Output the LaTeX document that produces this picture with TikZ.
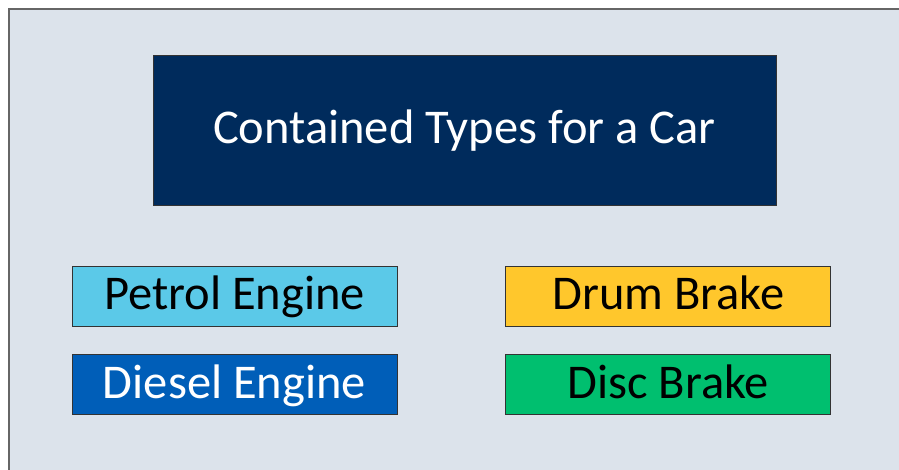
\documentclass[tikz,border=0pt]{standalone}
\usepackage{fontspec}
\setmainfont{Carlito}
\usepackage{xcolor}
\usetikzlibrary{positioning}

\definecolor{navyblue}{HTML}{002B5C}
\definecolor{paleblue}{HTML}{5BC9E8}
\definecolor{royalblue}{HTML}{005EB8}
\definecolor{amber}{HTML}{FFC72C}
\definecolor{emerald}{HTML}{00BF6F}
\definecolor{panel}{HTML}{DCE3EB}

\begin{document}
\begin{tikzpicture}[
  x=1pt, y=-1pt,
  every node/.style={font=\fontsize{48.5}{56}\selectfont,
                     text height=31pt, text depth=4pt},
  typebox/.style={draw=black!80, line width=0.8pt, rectangle,
                  minimum width=325pt, minimum height=60pt, inner sep=0pt}
]
\useasboundingbox (0,0) rectangle (899,470);
\draw[draw=black!60, line width=1.5pt, fill=panel] (9,9) rectangle (920,490);

\node (title) [draw=black!80, line width=0.8pt, fill=navyblue, text=white,
               minimum width=623pt, minimum height=150pt, inner sep=0pt]
              at (464.5,130) {Contained Types for a Car};

\node (petrol) [typebox, fill=paleblue] at (234.5,296) {Petrol Engine};
\node (diesel) [typebox, fill=royalblue, text=white, below=28pt of petrol] {Diesel Engine};
\node (drum)   [typebox, fill=amber, right=108pt of petrol] {Drum Brake};
\node (disc)   [typebox, fill=emerald, below=28pt of drum] {Disc Brake};
\end{tikzpicture}
\end{document}
